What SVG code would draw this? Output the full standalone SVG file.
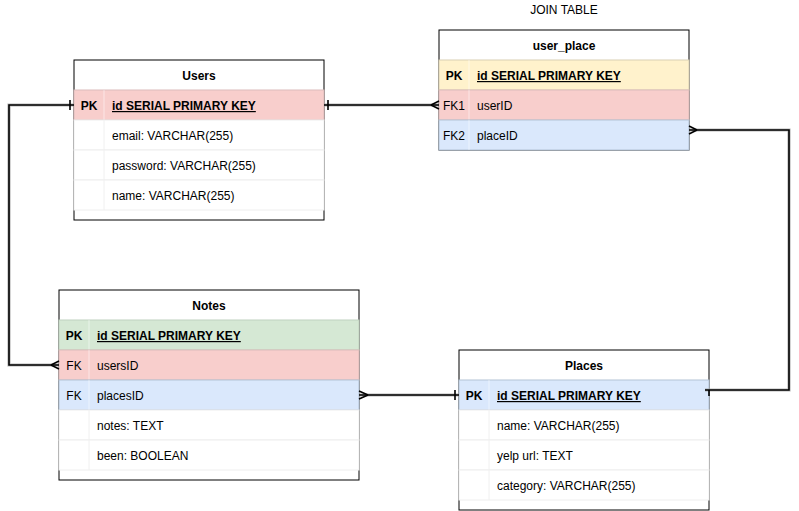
<svg xmlns="http://www.w3.org/2000/svg" width="799" height="511" viewBox="0 0 799 511">
<style>
text{font-family:"Liberation Sans",Arial,sans-serif;font-size:12px;fill:#000}
.h{font-weight:bold;text-anchor:middle}
.k{text-anchor:middle}
.kb{text-anchor:middle;font-weight:bold}
.pk{font-weight:bold;text-decoration:underline}
.box{fill:#fff;stroke:#000;stroke-width:1}
.w{fill:#fff;stroke:#eeeeee;stroke-width:1}
.pink{fill:#f8cecc;stroke:#dcbcbb;stroke-width:1}
.yel{fill:#fff2cc;stroke:#d9d0b4;stroke-width:1}
.blue{fill:#dae8fc;stroke:#b3c3d6;stroke-width:1}
.green{fill:#d5e8d4;stroke:#c0d2bf;stroke-width:1}
.div{stroke:#fff;stroke-opacity:0.5;stroke-width:1}
.dw{stroke:#f0f0f0;stroke-width:1}
.sh{fill:none;stroke:#9a9a9a;stroke-width:3.2;stroke-opacity:0.7}
.ln{fill:none;stroke:#000;stroke-width:1.6}
</style>
<text x="564" y="14" text-anchor="middle">JOIN TABLE</text>

<g id="users">
<rect class="box" x="74" y="60" width="250" height="160"/>
<text class="h" x="199" y="80">Users</text>
<rect class="pink" x="74" y="90" width="250" height="30"/>
<line class="div" x1="104" y1="90" x2="104" y2="120"/>
<text class="kb" x="89" y="110">PK</text><text class="pk" x="112" y="110">id SERIAL PRIMARY KEY</text>
<rect class="w" x="74" y="120" width="250" height="30"/>
<line class="dw" x1="104" y1="120" x2="104" y2="150"/>
<text x="112" y="140">email: VARCHAR(255)</text>
<rect class="w" x="74" y="150" width="250" height="30"/>
<line class="dw" x1="104" y1="150" x2="104" y2="180"/>
<text x="112" y="170">password: VARCHAR(255)</text>
<rect class="w" x="74" y="180" width="250" height="30"/>
<line class="dw" x1="104" y1="180" x2="104" y2="210"/>
<text x="112" y="200">name: VARCHAR(255)</text>
</g>

<g id="user_place">
<rect class="box" x="439" y="30" width="250" height="120"/>
<text class="h" x="564" y="50">user_place</text>
<rect class="yel" x="439" y="60" width="250" height="30"/>
<line class="div" x1="469" y1="60" x2="469" y2="90"/>
<text class="kb" x="454" y="80">PK</text><text class="pk" x="477" y="80">id SERIAL PRIMARY KEY</text>
<rect class="pink" x="439" y="90" width="250" height="30"/>
<line class="div" x1="469" y1="90" x2="469" y2="120"/>
<text class="k" x="454" y="110">FK1</text><text x="477" y="110">userID</text>
<rect class="blue" x="439" y="120" width="250" height="30"/>
<line class="div" x1="469" y1="120" x2="469" y2="150"/>
<text class="k" x="454" y="140">FK2</text><text x="477" y="140">placeID</text>
</g>

<g id="notes">
<rect class="box" x="59" y="290" width="300" height="190"/>
<text class="h" x="209" y="310">Notes</text>
<rect class="green" x="59" y="320" width="300" height="30"/>
<line class="div" x1="89" y1="320" x2="89" y2="350"/>
<text class="kb" x="74" y="340">PK</text><text class="pk" x="97" y="340">id SERIAL PRIMARY KEY</text>
<rect class="pink" x="59" y="350" width="300" height="30"/>
<line class="div" x1="89" y1="350" x2="89" y2="380"/>
<text class="k" x="74" y="370">FK</text><text x="97" y="370">usersID</text>
<rect class="blue" x="59" y="380" width="300" height="30"/>
<line class="div" x1="89" y1="380" x2="89" y2="410"/>
<text class="k" x="74" y="400">FK</text><text x="97" y="400">placesID</text>
<rect class="w" x="59" y="410" width="300" height="30"/>
<line class="dw" x1="89" y1="410" x2="89" y2="440"/>
<text x="97" y="430">notes: TEXT</text>
<rect class="w" x="59" y="440" width="300" height="30"/>
<line class="dw" x1="89" y1="440" x2="89" y2="470"/>
<text x="97" y="460">been: BOOLEAN</text>
</g>

<g id="places">
<rect class="box" x="459" y="350" width="250" height="160"/>
<text class="h" x="584" y="370">Places</text>
<rect class="blue" x="459" y="380" width="250" height="30"/>
<line class="div" x1="489" y1="380" x2="489" y2="410"/>
<text class="kb" x="474" y="400">PK</text><text class="pk" x="497" y="400">id SERIAL PRIMARY KEY</text>
<rect class="w" x="459" y="410" width="250" height="30"/>
<line class="dw" x1="489" y1="410" x2="489" y2="440"/>
<text x="497" y="430">name: VARCHAR(255)</text>
<rect class="w" x="459" y="440" width="250" height="30"/>
<line class="dw" x1="489" y1="440" x2="489" y2="470"/>
<text x="497" y="460">yelp url: TEXT</text>
<rect class="w" x="459" y="470" width="250" height="30"/>
<line class="dw" x1="489" y1="470" x2="489" y2="500"/>
<text x="497" y="490">category: VARCHAR(255)</text>
</g>

<g id="connectors">
<g id="users-notes">
<path class="sh" d="M74,105 H9 V365 H59"/>
<path class="ln" d="M74,105 H9 V365 H59"/>
<path class="ln" d="M70,100 V110 M51,365 L59,361 M51,365 L59,369"/>
</g>
<g id="users-user_place">
<path class="sh" d="M324,105 H439"/>
<path class="ln" d="M324,105 H439"/>
<path class="ln" d="M328,100 V110 M431,105 L439,101 M431,105 L439,109"/>
</g>
<g id="user_place-places">
<path class="sh" d="M689,130 H789 V390 H705"/>
<path class="ln" d="M689,130 H789 V390 H705"/>
<path class="ln" d="M697,130 L689,126 M697,130 L689,134 M709,390 V396"/>
</g>
<g id="notes-places">
<path class="sh" d="M359,395 H459"/>
<path class="ln" d="M359,395 H459"/>
<path class="ln" d="M368,395 L359,391 M368,395 L359,399 M455,390 V400"/>
</g>
</g>
</svg>
